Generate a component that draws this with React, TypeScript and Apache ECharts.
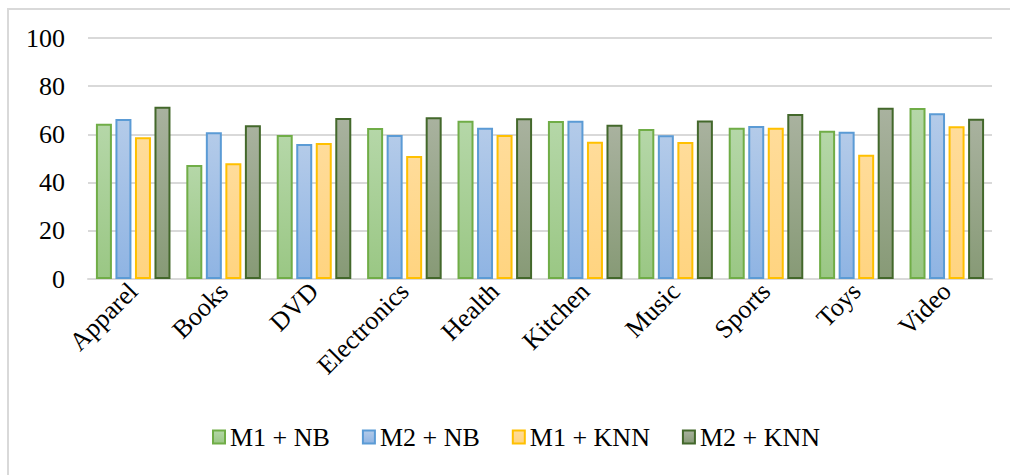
import React, { useEffect, useRef } from "react";
import * as echarts from "echarts";

const categories = ["Apparel", "Books", "DVD", "Electronics", "Health", "Kitchen", "Music", "Sports", "Toys", "Video"];
const m1nb = [64.4, 47.3, 59.8, 62.7, 65.7, 65.6, 62.2, 62.8, 61.5, 71.0];
const m2nb = [66.4, 60.9, 56.0, 59.8, 62.8, 65.7, 59.6, 63.5, 61.1, 68.8];
const m1knn = [58.8, 48.0, 56.4, 51.0, 59.8, 57.0, 56.8, 62.8, 51.6, 63.4];
const m2knn = [71.5, 63.8, 66.8, 67.1, 66.7, 64.0, 65.8, 68.5, 71.1, 66.5];
const seriesNames = ["M1 + NB", "M2 + NB", "M1 + KNN", "M2 + KNN"];

const grad = (top: string, bottom: string) =>
  new echarts.graphic.LinearGradient(0, 0, 0, 1, [
    { offset: 0, color: top },
    { offset: 1, color: bottom },
  ]);

const FONT = "'Liberation Serif', 'Times New Roman', serif";

export default function App() {
  const ref = useRef<HTMLDivElement>(null);
  useEffect(() => {
    if (!ref.current) return;
    const chart = echarts.init(ref.current, null, { renderer: "svg" });
    const styles = [
      { fill: grad("#b5d7a8", "#9ac784"), border: "#70ad47" },
      { fill: grad("#b4cbe9", "#8fb4e3"), border: "#5b9bd5" },
      { fill: grad("#ffdc9a", "#ffd480"), border: "#ffc000" },
      { fill: grad("#a9b29f", "#879a76"), border: "#43682b" },
    ];
    const data = [m1nb, m2nb, m1knn, m2knn];
    chart.setOption({
      animation: false,
      textStyle: { fontFamily: FONT },
      grid: { left: 88, right: 18, top: 38, bottom: 196 },
      legend: {
        bottom: 20,
        left: 207,
        itemWidth: 12,
        itemHeight: 13,
        itemGap: 32,
        icon: "rect",
        textStyle: { fontFamily: FONT, fontSize: 26, color: "#000", padding: [0, 0, 0, 0] },
        data: seriesNames,
      },
      xAxis: {
        type: "category",
        data: categories,
        axisTick: { show: false },
        axisLine: { lineStyle: { color: "#d9d9d9", width: 2 } },
        axisLabel: {
          rotate: 45,
          interval: 0,
          fontFamily: FONT,
          fontSize: 26,
          color: "#000",
          margin: 8,
        },
      },
      yAxis: {
        type: "value",
        min: 0,
        max: 100,
        interval: 20,
        axisLine: { show: false },
        axisTick: { show: false },
        splitLine: { lineStyle: { color: "#d9d9d9", width: 2 } },
        axisLabel: { fontFamily: FONT, fontSize: 26, color: "#000", margin: 23 },
      },
      series: data.map((d, i) => ({
        name: seriesNames[i],
        type: "bar",
        data: d,
        barWidth: 16,
        barGap: "22%",
        itemStyle: { color: styles[i].fill, borderColor: styles[i].border, borderWidth: 2 },
      })),
    });
    return () => chart.dispose();
  }, []);
  return (
    <div style={{ position: "fixed", left: 0, top: 0, width: 1010, height: 475, background: "#fff", overflow: "hidden" }}>
      <div
        style={{
          position: "absolute",
          left: 7,
          top: 8,
          width: 1010,
          height: 475,
          borderLeft: "2px solid #d9d9d9",
          borderTop: "2px solid #d9d9d9",
        }}
      />
      <div ref={ref} style={{ position: "absolute", left: 0, top: 0, width: 1010, height: 475 }} />
    </div>
  );
}
